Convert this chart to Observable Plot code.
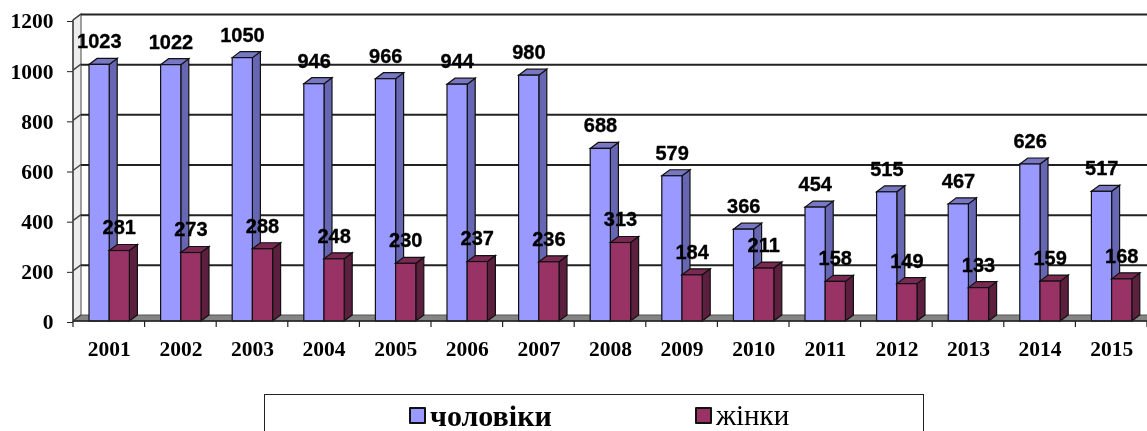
<!DOCTYPE html>
<html>
<head>
<meta charset="utf-8">
<script src="https://cdn.jsdelivr.net/npm/d3@7"></script>
<script src="https://cdn.jsdelivr.net/npm/@observablehq/plot@0.6"></script>
<style>
html,body{margin:0;padding:0;background:#fff;width:1147px;height:431px;overflow:hidden}
#chart{position:absolute;left:0;top:0}
#chart svg{filter:blur(0.45px);display:block}
#legend{position:absolute;left:264px;top:394px;width:660px;height:60px;border:1px solid #222;box-sizing:border-box;filter:blur(0.3px)}
#legend span{position:absolute;font-family:"Liberation Serif",serif;color:#000;white-space:nowrap}
#legend .sw{width:13px;height:13px;border:2px solid #111;border-radius:1px}
</style>
</head>
<body>
<div id="chart"></div>
<div id="legend">
  <span class="sw" style="left:144px;top:12px;background:#9999ff"></span>
  <span style="left:165px;top:4px;font-size:30px;font-weight:bold">чоловіки</span>
  <span class="sw" style="left:430px;top:12px;background:#993366"></span>
  <span style="left:451px;top:4px;font-size:29px">жінки</span>
</div>
<script>
const years = [2001,2002,2003,2004,2005,2006,2007,2008,2009,2010,2011,2012,2013,2014,2015];
const men   = [1023,1022,1050,946,966,944,980,688,579,366,454,515,467,626,517];
const women = [281,273,288,248,230,237,236,313,184,211,158,149,133,159,168];
const yTicks = [0,200,400,600,800,1000,1200];

const depthX = 8, depthY = 6;
const barInset = 16, barW = 20.2;
const line = "#111";

function poly(g, pts, fill, stroke = line, sw = 1.2) {
  g.append("polygon").attr("points", pts.map(p => p.join(",")).join(" "))
    .attr("fill", fill).attr("stroke", stroke).attr("stroke-width", sw);
}

// Back wall, floor and the oblique ends of the gridlines, from the scales.
function walls(index, {x, y}, values, dim) {
  const g = d3.create("svg:g");
  const L = dim.marginLeft, R = dim.width, B = y(0), T = y(1200);
  poly(g, [[L,B],[L+depthX,B-depthY],[L+depthX,T-depthY],[L,T]], "#ededed", "#666", 1.2);
  poly(g, [[L,B],[L+depthX,B-depthY],[R+depthX,B-depthY],[R,B]], "#858585", "#555", 1);
  for (const v of yTicks) {
    g.append("line").attr("x1",L).attr("x2",L+depthX).attr("y1",y(v)).attr("y2",y(v)-depthY)
      .attr("stroke","#444").attr("stroke-width",1.4);
  }
  return g.node();
}

function edgeTicks(index, {x, y}, values, dim) {
  const g = d3.create("svg:g");
  const B = y(0), step = x.bandwidth();
  g.append("line").attr("x1",dim.marginLeft).attr("x2",dim.width).attr("y1",B).attr("y2",B).attr("stroke","#222").attr("stroke-width",1.4);
  g.append("line").attr("x1",dim.marginLeft).attr("x2",dim.marginLeft).attr("y1",y(1200)).attr("y2",B).attr("stroke","#444").attr("stroke-width",1.4);
  years.concat([null]).forEach((yr, i) => {
    const px = yr === null ? x(years[years.length-1]) + step : x(yr);
    g.append("line").attr("x1",px).attr("x2",px).attr("y1",B).attr("y2",B+6).attr("stroke","#222").attr("stroke-width",1.2);
  });
  return g.node();
}

function depth(vals, off, sideFill, topFill) {
  return (index, {x, y}) => {
    const g = d3.create("svg:g");
    years.forEach((yr, i) => {
      const x0 = x(yr) + off, x1 = x0 + barW, y0 = y(vals[i]), b = y(0);
      poly(g, [[x1,y0],[x1+depthX,y0-depthY],[x1+depthX,b-depthY],[x1,b]], sideFill);
      poly(g, [[x0,y0],[x0+depthX,y0-depthY],[x1+depthX,y0-depthY],[x1,y0]], topFill);
    });
    return g.node();
  };
}

const menRows = years.map((year,i) => ({year, value: men[i]}));
const womenRows = years.map((year,i) => ({year, value: women[i]}));
const bw = 1147 - 73;
const step = bw / years.length;

const labelFont = {fontFamily:"Liberation Sans, Arial, sans-serif", fontSize:20, fontWeight:"bold", fill:"#000", stroke:"#000", strokeWidth:0.35, paintOrder:"normal"};
const axisFont = {fontFamily:"Liberation Serif, serif", fontSize:21.5, fontWeight:"bold", fill:"#000"};

const chart = Plot.plot({
  width: 1147, height: 385,
  marginLeft: 73, marginRight: 0, marginTop: 20, marginBottom: 64,
  style: {background:"transparent", overflow:"hidden"},
  x: {type:"band", domain: years, padding: 0, label:null, round:false},
  y: {domain:[0,1200], label:null},
  marks: [
    walls,
    Plot.ruleY(yTicks.slice(1), {y:d=>d, dy:-depthY, insetLeft:depthX, stroke:"#222", strokeWidth:2}),
    Plot.axisY({ticks:yTicks, tickSize:6, tickPadding:14, stroke:"#222", label:null,
      tickFormat:d=>String(d), dy:1, ...axisFont}),
    Plot.axisX({tickSize:0, tickPadding:19, label:null, tickFormat:d=>String(d), ...axisFont}),
    depth(men, barInset, "#6666b3", "#7777c4"),
    Plot.barY(menRows, {x:"year", y:"value", fill:"#9999ff", stroke:line, strokeWidth:1.2,
      insetLeft:barInset, insetRight:step-barInset-barW}),
    depth(women, barInset+barW, "#5c1f3d", "#7a2952"),
    Plot.barY(womenRows, {x:"year", y:"value", fill:"#993366", stroke:line, strokeWidth:1.2,
      insetLeft:barInset+barW, insetRight:step-barInset-2*barW}),
    edgeTicks,
    Plot.text(menRows, {x:"year", y:"value", text:d=>String(d.value), dx:-10, dy:-23, ...labelFont}),
    Plot.text(womenRows, {x:"year", y:"value", text:d=>String(d.value), dx:10, dy:-23, ...labelFont})
  ]
});
document.getElementById("chart").appendChild(chart);
</script>
</body>
</html>
